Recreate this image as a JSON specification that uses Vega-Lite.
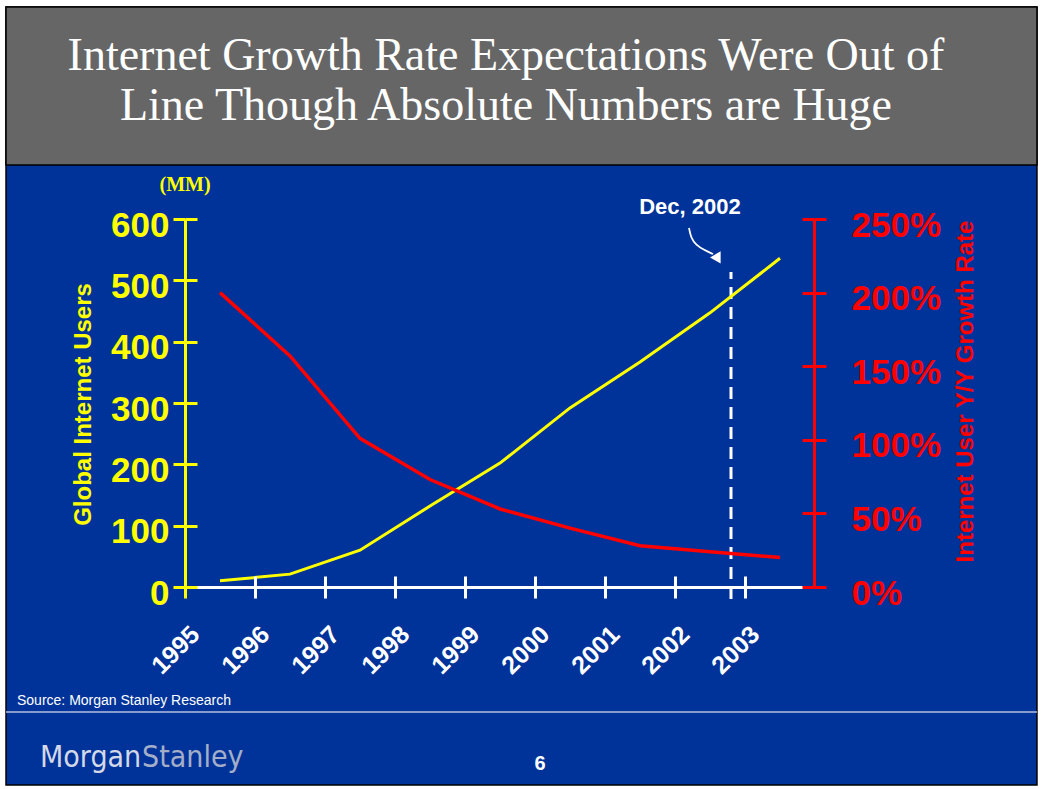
{
  "$schema": "https://vega.github.io/schema/vega-lite/v6.json",
  "autosize": "none",
  "width": 618,
  "height": 368,
  "padding": {"left": 185, "top": 219, "right": 239, "bottom": 202},
  "background": "white",
  "config": {
    "view": {"stroke": null},
    "axis": {"zindex": 1, "grid": false, "labelOverlap": false, "labelBound": false, "labelFlush": false},
    "font": "Liberation Sans"
  },
  "datasets": {
    "internet": [
      {"t": 1995.5, "users": 10, "growth": 200},
      {"t": 1996.5, "users": 21, "growth": 157},
      {"t": 1997.5, "users": 60, "growth": 101},
      {"t": 1998.5, "users": 132, "growth": 73},
      {"t": 1999.5, "users": 202, "growth": 53},
      {"t": 2000.5, "users": 292, "growth": 40},
      {"t": 2001.5, "users": 367, "growth": 28},
      {"t": 2002.5, "users": 447, "growth": 24},
      {"t": 2003.5, "users": 536, "growth": 20}
    ],
    "arrow": [
      {"order": 1, "x": 2002.2, "y": 585.3},
      {"order": 2, "x": 2002.229, "y": 569.0},
      {"order": 3, "x": 2002.3, "y": 557.6},
      {"order": 4, "x": 2002.414, "y": 549.5},
      {"order": 5, "x": 2002.543, "y": 542.9}
    ]
  },
  "layer": [
    {
      "layer": [
        {
          "data": {"values": [{}]},
          "mark": {"type": "rect", "fill": "#003399", "stroke": "#000000", "strokeWidth": 1.5},
          "encoding": {
            "x": {"datum": 1992.443, "type": "quantitative", "axis": null},
            "x2": {"datum": 2007.171},
            "y": {"datum": -322.83, "type": "quantitative", "axis": null},
            "y2": {"datum": 945.65}
          }
        },
        {
          "data": {"values": [{}]},
          "mark": {"type": "rect", "fill": "#666666", "stroke": "#000000", "strokeWidth": 1.5},
          "encoding": {
            "x": {"datum": 1992.443, "type": "quantitative", "axis": null},
            "x2": {"datum": 2007.171},
            "y": {"datum": 688.04, "type": "quantitative", "axis": null},
            "y2": {"datum": 945.65}
          }
        },
        {
          "data": {"values": [{}]},
          "mark": {"type": "rule", "color": "#b4c0e0", "strokeWidth": 1.5},
          "encoding": {
            "x": {"datum": 1992.443, "type": "quantitative", "axis": null},
            "x2": {"datum": 2007.171},
            "y": {"datum": -203.8, "type": "quantitative", "axis": null}
          }
        },
        {
          "data": {"values": [{}]},
          "mark": {"type": "text", "text": ["Internet Growth Rate Expectations Were Out of", "Line Though Absolute Numbers are Huge"], "font": "Liberation Serif", "fontSize": 46, "color": "white", "align": "center", "baseline": "alphabetic", "lineHeight": 50},
          "encoding": {
            "x": {"datum": 1999.586, "type": "quantitative", "axis": null},
            "y": {"datum": 842.9, "type": "quantitative", "axis": null}
          }
        },
        {
          "data": {"values": [{}]},
          "mark": {"type": "text", "text": "(MM)", "font": "Liberation Serif", "fontWeight": "bold", "fontSize": 20, "color": "#ffff00", "align": "center", "baseline": "alphabetic"},
          "encoding": {
            "x": {"datum": 1995, "type": "quantitative", "axis": null},
            "y": {"datum": 645.6, "type": "quantitative", "axis": null}
          }
        },
        {
          "data": {"values": [{}]},
          "mark": {"type": "text", "text": "Dec, 2002", "fontWeight": "bold", "fontSize": 22, "color": "white", "align": "center", "baseline": "alphabetic"},
          "encoding": {
            "x": {"datum": 2002.214, "type": "quantitative", "axis": null},
            "y": {"datum": 608.2, "type": "quantitative", "axis": null}
          }
        },
        {
          "data": {"values": [{}]},
          "mark": {"type": "text", "text": "Source: Morgan Stanley Research", "fontSize": 14, "color": "white", "align": "left", "baseline": "alphabetic"},
          "encoding": {
            "x": {"datum": 1992.6, "type": "quantitative", "axis": null},
            "y": {"datum": -192.4, "type": "quantitative", "axis": null}
          }
        },
        {
          "data": {"values": [{}]},
          "mark": {"type": "text", "text": "Morgan", "font": "DejaVu Sans Condensed, Liberation Sans Narrow, sans-serif", "fontSize": 30, "color": "#d4d9e8", "align": "left", "baseline": "alphabetic"},
          "encoding": {
            "x": {"datum": 1992.929, "type": "quantitative", "axis": null},
            "y": {"datum": -293.5, "type": "quantitative", "axis": null}
          }
        },
        {
          "data": {"values": [{}]},
          "mark": {"type": "text", "text": "Stanley", "font": "DejaVu Sans Condensed, Liberation Sans Narrow, sans-serif", "fontSize": 30, "color": "#a4aec8", "align": "left", "baseline": "alphabetic"},
          "encoding": {
            "x": {"datum": 1994.386, "type": "quantitative", "axis": null},
            "y": {"datum": -293.5, "type": "quantitative", "axis": null}
          }
        },
        {
          "data": {"values": [{}]},
          "mark": {"type": "text", "text": "6", "fontWeight": "bold", "fontSize": 20, "color": "white", "align": "center", "baseline": "alphabetic"},
          "encoding": {
            "x": {"datum": 2000.071, "type": "quantitative", "axis": null},
            "y": {"datum": -298.4, "type": "quantitative", "axis": null}
          }
        },
        {
          "data": {"values": [{}]},
          "mark": {"type": "rule", "color": "white", "strokeWidth": 3, "strokeDash": [12, 8]},
          "encoding": {
            "x": {"datum": 2002.8, "type": "quantitative", "axis": null},
            "y": {"datum": -19.6, "type": "quantitative", "axis": null},
            "y2": {"datum": 513.6}
          }
        },
        {
          "data": {"name": "arrow"},
          "mark": {"type": "line", "interpolate": "basis", "color": "white", "strokeWidth": 1.8},
          "encoding": {
            "x": {"field": "x", "type": "quantitative", "axis": null},
            "y": {"field": "y", "type": "quantitative", "axis": null},
            "order": {"field": "order"}
          }
        },
        {
          "data": {"values": [{}]},
          "mark": {"type": "point", "shape": "triangle-down", "filled": true, "color": "white", "opacity": 1, "size": 150, "angle": -30},
          "encoding": {
            "x": {"datum": 2002.614, "type": "quantitative", "axis": null},
            "y": {"datum": 534.8, "type": "quantitative", "axis": null}
          }
        },
        {
          "data": {"name": "internet"},
          "mark": {"type": "line", "color": "#ffff00", "strokeWidth": 3},
          "encoding": {
            "x": {
              "field": "t", "type": "quantitative",
              "scale": {"domain": [1995, 2003.8286], "nice": false, "zero": false},
              "axis": {
                "orient": "bottom", "title": null, "zindex": 2,
                "values": [1995, 1996, 1997, 1998, 1999, 2000, 2001, 2002, 2003], "format": "d",
                "domainColor": "white", "domainWidth": 3,
                "tickColor": {"condition": {"test": "datum.value == 1995", "value": "#ffff00"}, "value": "white"},
                "tickWidth": 3, "tickSize": 11,
                "labelAngle": -45, "labelAlign": "right", "labelBaseline": "middle",
                "labelColor": "white", "labelFont": "Liberation Sans", "labelFontWeight": "bold", "labelFontSize": 25,
                "labelPadding": 32, "labelOffset": 10
              }
            },
            "y": {
              "field": "users", "type": "quantitative",
              "scale": {"domain": [0, 600], "nice": false},
              "axis": {
                "orient": "left", "zindex": 3,
                "values": [0, 100, 200, 300, 400, 500, 600],
                "domainColor": "#ffff00", "domainWidth": 3,
                "tickColor": "#ffff00", "tickWidth": 3, "tickSize": 12,
                "labelColor": "#ffff00", "labelFont": "Liberation Sans", "labelFontWeight": "bold", "labelFontSize": 35,
                "labelPadding": 4, "labelOffset": 6,
                "title": "Global Internet Users", "titleColor": "#ffff00", "titleFont": "Liberation Sans", "titleFontWeight": "bold", "titleFontSize": 24,
                "titleAngle": -90, "titleAlign": "center", "titleBaseline": "middle", "titleX": -102, "titleY": 185
              }
            }
          }
        },
        {
          "data": {"name": "internet"},
          "mark": {"type": "line", "opacity": 0},
          "encoding": {
            "x": {
              "field": "t", "type": "quantitative",
              "axis": {
                "orient": "top", "offset": -368, "title": null, "labels": false, "domain": false, "zindex": 2,
                "values": [1995, 1996, 1997, 1998, 1999, 2000, 2001, 2002, 2003],
                "tickColor": {"condition": {"test": "datum.value == 1995", "value": "#ffff00"}, "value": "white"},
                "tickWidth": 3, "tickSize": 11
              }
            },
            "y": {
              "field": "users", "type": "quantitative",
              "axis": {
                "orient": "right", "offset": -618, "title": null, "labels": false, "domain": false, "zindex": 3,
                "values": [0, 100, 200, 300, 400, 500, 600],
                "tickColor": "#ffff00", "tickWidth": 3, "tickSize": 12
              }
            }
          }
        }
      ],
      "resolve": {"axis": {"x": "independent", "y": "independent"}}
    },
    {
      "layer": [
        {
          "data": {"name": "internet"},
          "mark": {"type": "line", "color": "#ff0000", "strokeWidth": 3.5},
          "encoding": {
            "x": {"field": "t", "type": "quantitative", "axis": null},
            "y": {
              "field": "growth", "type": "quantitative",
              "scale": {"domain": [0, 250], "nice": false},
              "axis": {
                "orient": "right", "offset": 11, "zindex": 3,
                "values": [0, 50, 100, 150, 200, 250],
                "labelExpr": "datum.value + '%'",
                "domainColor": "#ff0000", "domainWidth": 3,
                "tickColor": "#ff0000", "tickWidth": 3, "tickSize": 12,
                "labelColor": "#ff0000", "labelFont": "Liberation Sans", "labelFontWeight": "bold", "labelFontSize": 35,
                "labelPadding": 25, "labelOffset": 6,
                "title": "Internet User Y/Y Growth Rate", "titleColor": "#ff0000", "titleFont": "Liberation Sans", "titleFontWeight": "bold", "titleFontSize": 24,
                "titleAngle": -90, "titleAlign": "center", "titleBaseline": "middle", "titleX": 151, "titleY": 172
              }
            }
          }
        },
        {
          "data": {"name": "internet"},
          "mark": {"type": "line", "opacity": 0},
          "encoding": {
            "x": {"field": "t", "type": "quantitative", "axis": null},
            "y": {
              "field": "growth", "type": "quantitative",
              "axis": {
                "orient": "left", "offset": -629, "title": null, "labels": false, "domain": false, "zindex": 3,
                "values": [0, 50, 100, 150, 200, 250],
                "tickColor": "#ff0000", "tickWidth": 3, "tickSize": 12
              }
            }
          }
        }
      ],
      "resolve": {"axis": {"y": "independent"}}
    }
  ],
  "resolve": {"scale": {"y": "independent"}, "axis": {"x": "independent", "y": "independent"}}
}
